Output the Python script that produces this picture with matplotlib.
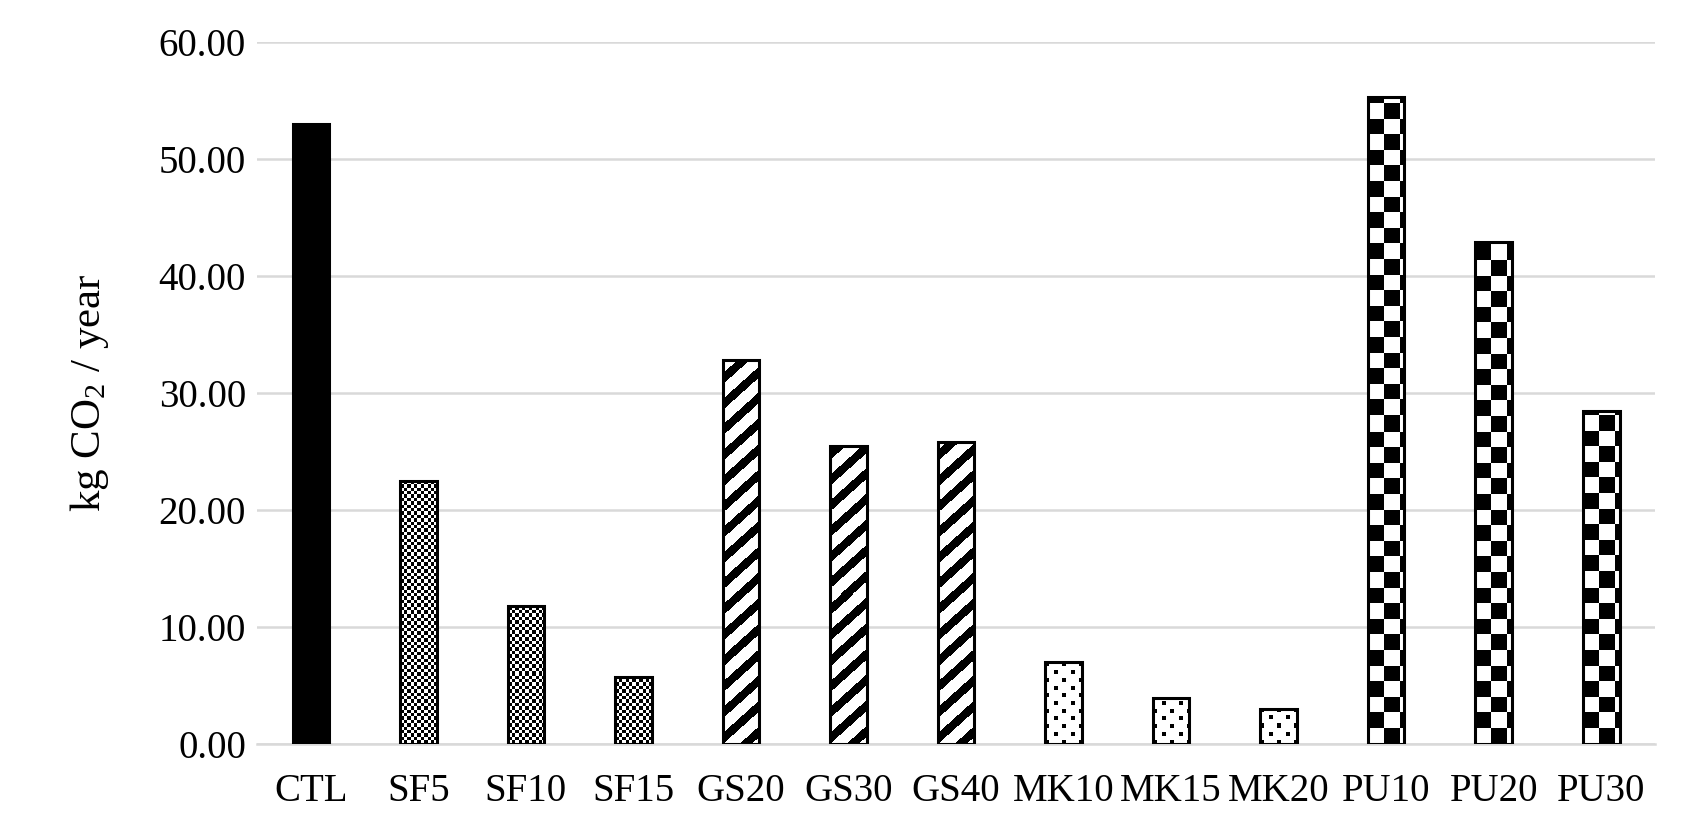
import matplotlib
matplotlib.use('Agg')
import matplotlib.pyplot as plt
import numpy as np

# data
categories = ['CTL', 'SF5', 'SF10', 'SF15', 'GS20', 'GS30', 'GS40',
              'MK10', 'MK15', 'MK20', 'PU10', 'PU20', 'PU30']
emissions = [53.0, 22.5, 11.8, 5.7, 32.8, 25.5, 25.8,
             7.0, 3.9, 3.0, 55.3, 42.9, 28.5]
fill_kind = ['solid', 'fine', 'fine', 'fine', 'stripe', 'stripe', 'stripe',
             'dots', 'dots', 'dots', 'checker', 'checker', 'checker']
y_ticks = [0, 10, 20, 30, 40, 50, 60]

plt.rcParams['font.family'] = ['Liberation Serif', 'DejaVu Serif']
plt.rcParams['mathtext.fontset'] = 'custom'
plt.rcParams['mathtext.rm'] = 'Liberation Serif'


def texture(kind, w, h):
    """Build a black/white pattern of w x h pixels (row 0 at the bottom)."""
    x, y = np.meshgrid(np.arange(w), np.arange(h))
    if kind == 'fine':
        s = 3.4
        return ((np.floor(x / s) + np.floor(y / s)) % 2).astype(float)
    if kind == 'checker':
        s = 15.6
        return ((np.floor(x / s) + np.floor(y / s)) % 2).astype(float)
    if kind == 'stripe':
        return (((y - 0.9 * x) % 25.7) < 11).astype(float)
    if kind == 'dots':
        row = np.floor(y / 7.7)
        off = (row % 2) * 8.35
        return ((((x + off) % 16.7) < 4) & ((y % 7.7) < 4)).astype(float)
    return np.ones((h, w))


fig = plt.figure(figsize=(16.98, 8.36), dpi=100)
ax = fig.add_axes([0.1514, 0.1100, 0.8233, 0.8397])

xs = np.arange(len(categories))
ax.set_xlim(-0.5, len(categories) - 0.5)
ax.set_ylim(0, 60)

bars = ax.bar(xs, emissions, width=0.34, facecolor='none', edgecolor='black',
              linewidth=2.2, zorder=4)

# pattern fills, sized in pixels so the squares / stripes look like the original
for bar, kind in zip(bars, fill_kind):
    x0, y0 = bar.get_x(), bar.get_y()
    x1, y1 = x0 + bar.get_width(), y0 + bar.get_height()
    p0 = ax.transData.transform((x0, y0))
    p1 = ax.transData.transform((x1, y1))
    w = max(int(round(p1[0] - p0[0])), 1)
    h = max(int(round(p1[1] - p0[1])), 1)
    img = ax.imshow(texture(kind, w, h), cmap='gray_r', vmin=0, vmax=1,
                    origin='lower', extent=(x0, x1, y0, y1),
                    interpolation='nearest', aspect='auto', zorder=3)
    img.set_clip_path(bar)

ax.set_xlim(-0.5, len(categories) - 0.5)
ax.set_ylim(0, 60)

# gridlines
ax.set_yticks(y_ticks)
ax.set_yticklabels(['%.2f' % t for t in y_ticks], fontsize=28)
ax.yaxis.grid(True, color='#d9d9d9', linewidth=1.8, zorder=0)
ax.set_axisbelow(True)
ax.set_xticks(xs)
ax.set_xticklabels(categories, fontsize=28)
ax.tick_params(axis='both', length=0)
ax.tick_params(axis='x', pad=21)
ax.tick_params(axis='y', pad=8)

for side in ['top', 'right', 'left']:
    ax.spines[side].set_visible(False)
ax.spines['bottom'].set_color('#d9d9d9')
ax.spines['bottom'].set_linewidth(1.8)

ax.set_ylabel(r'kg CO$\mathregular{_2}$ / year', fontsize=31, labelpad=34)

fig.savefig('out.png', dpi=100, facecolor='white')
